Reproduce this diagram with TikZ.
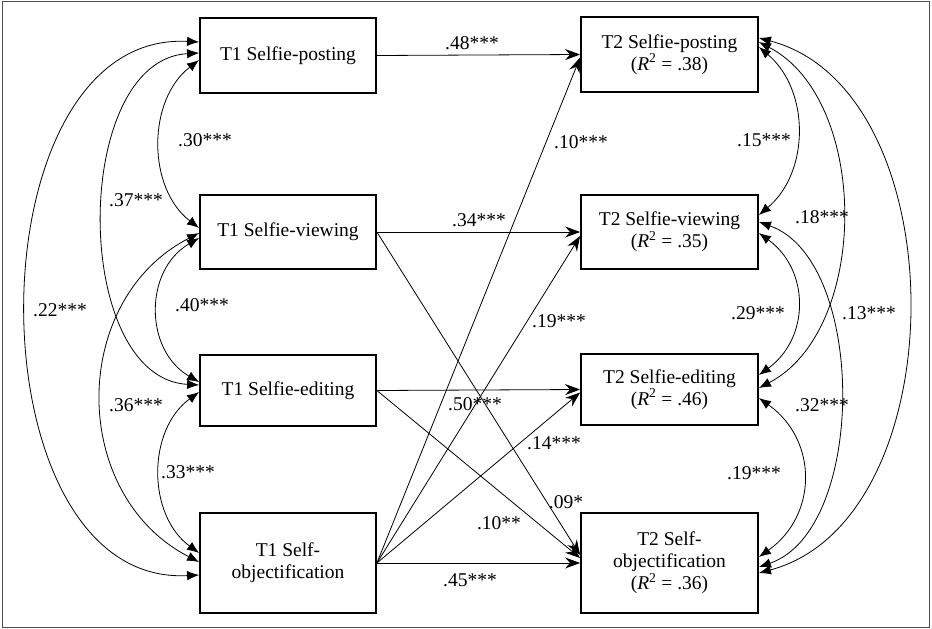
\documentclass[tikz,border=0pt]{standalone}
\usepackage{fontspec}
\setmainfont{Liberation Serif}
\usetikzlibrary{arrows.meta,calc}
\begin{document}
\begin{tikzpicture}[x=1pt,y=-1pt,
  box/.style={draw, line width=1.8pt, minimum width=176pt, inner sep=0pt, align=center, font=\fontsize{19.5}{22}\selectfont},
  lab/.style={inner sep=0pt, font=\fontsize{19.5}{22}\selectfont},
  reg/.style={line width=0.8pt, -{Stealth[length=15pt,width=11pt,inset=5pt]}},
  cov/.style={line width=0.8pt, {Latex[length=12pt,width=9.5pt]}-{Latex[length=12pt,width=9.5pt]}}]
\useasboundingbox (0,0) rectangle (932,629);
\draw[gray!60!black, line width=1pt] (2.5,1.5) rectangle (929.5,627.5);
% boxes
\node[box, minimum height=75pt] (a1) at (288,55.5) {T1 Selfie-posting};
\node[box, minimum height=74pt] (b1) at (288,232) {T1 Selfie-viewing};
\node[box, minimum height=71pt] (c1) at (288,390.5) {T1 Selfie-editing};
\node[box, minimum height=100pt] (d1) at (288,563) {T1 Self-\\objectification};
\node[box, minimum height=75pt, minimum width=177pt] (a2) at (669.5,54.5) {T2 Selfie-posting\\(\textit{R}\textsuperscript{2} = .38)};
\node[box, minimum height=74pt, minimum width=177pt] (b2) at (669.5,232) {T2 Selfie-viewing\\(\textit{R}\textsuperscript{2} = .35)};
\node[box, minimum height=71pt, minimum width=177pt] (c2) at (669.5,389.5) {T2 Selfie-editing\\(\textit{R}\textsuperscript{2} = .46)};
\node[box, minimum height=100pt, minimum width=177pt] (d2) at (669.5,563) {T2 Self-\\objectification\\(\textit{R}\textsuperscript{2} = .36)};
% regression paths
\draw[reg] (a1.east) -- (a2.west);
\draw[reg] (b1.east) -- (b2.west);
\draw[reg] (c1.east) -- (c2.west);
\draw[reg] (d1.east) -- (d2.west);
\draw[reg] (d1.east) -- ([yshift=-3pt]a2.west);
\draw[reg] (d1.east) -- ([yshift=-4pt]b2.west);
\draw[reg] (d1.east) -- ([yshift=-3pt]c2.west);
\draw[reg] (b1.east) -- ([yshift=8pt]d2.west);
\draw[reg] (c1.east) -- ([yshift=5pt]d2.west);
% left covariances
\draw[cov] ([yshift=13.5pt]a1.west) .. controls (-31,30) and (-31,587) .. ([yshift=-12pt]d1.west);
\draw[cov] ([yshift=2.5pt]a1.west) .. controls (71,60) and (71,378) .. ([yshift=5.5pt]c1.west);
\draw[cov] ([yshift=-4.5pt]a1.west) .. controls (147,100) and (147,188) .. ([yshift=4pt]b1.west);
\draw[cov] ([yshift=-1pt]b1.west) .. controls (69,300) and (69,495) .. ([yshift=1pt]d1.west);
\draw[cov] ([yshift=-6pt]b1.west) .. controls (144,270) and (144,350) .. ([yshift=8.5pt]c1.west);
\draw[cov] ([yshift=-1.5pt]c1.west) .. controls (147,430) and (147,515) .. ([yshift=10pt]d1.west);
% right covariances
\draw[cov] ([yshift=7.5pt]a2.east) .. controls (810,90) and (810,172) .. ([yshift=17pt]b2.east);
\draw[cov] ([yshift=12.5pt]a2.east) .. controls (870,100) and (870,330) .. ([yshift=1.5pt]c2.east);
\draw[cov] ([yshift=16.5pt]a2.east) .. controls (958,90) and (958,520) .. ([yshift=-10pt]d2.east);
\draw[cov] ([yshift=-1pt]b2.east) .. controls (810,270) and (810,338) .. ([yshift=14.5pt]c2.east);
\draw[cov] ([yshift=10pt]b2.east) .. controls (867,260) and (867,530) .. ([yshift=-4pt]d2.east);
\draw[cov] ([yshift=-8.5pt]c2.east) .. controls (818,440) and (818,515) .. ([yshift=6pt]d2.east);
% labels
\node[lab] (l1) at (472,43) {.48***};
\node[lab] (l2) at (479,220) {.34***};
\node[lab] (l3) at (475,404) {.50***};
\node[lab] (l4) at (470,580) {.45***};
\node[lab] (l5) at (581,142) {.10***};
\node[lab] (l6) at (559,321) {.19***};
\node[lab] (l7) at (554,443) {.14***};
\node[lab] (l8) at (566,502) {.09*};
\node[lab] (l9) at (499,523) {.10**};
\node[lab] (m1) at (205,140) {.30***};
\node[lab] (m2) at (136,200) {.37***};
\node[lab] (m3) at (60,310) {.22***};
\node[lab] (m4) at (202,305) {.40***};
\node[lab] (m5) at (136,405) {.36***};
\node[lab] (m6) at (188,472) {.33***};
\node[lab] (n1) at (764,140) {.15***};
\node[lab] (n2) at (822,217) {.18***};
\node[lab] (n3) at (758,313) {.29***};
\node[lab] (n4) at (869,313) {.13***};
\node[lab] (n5) at (822,405) {.32***};
\node[lab] (n6) at (754,473) {.19***};
\end{tikzpicture}
\end{document}
